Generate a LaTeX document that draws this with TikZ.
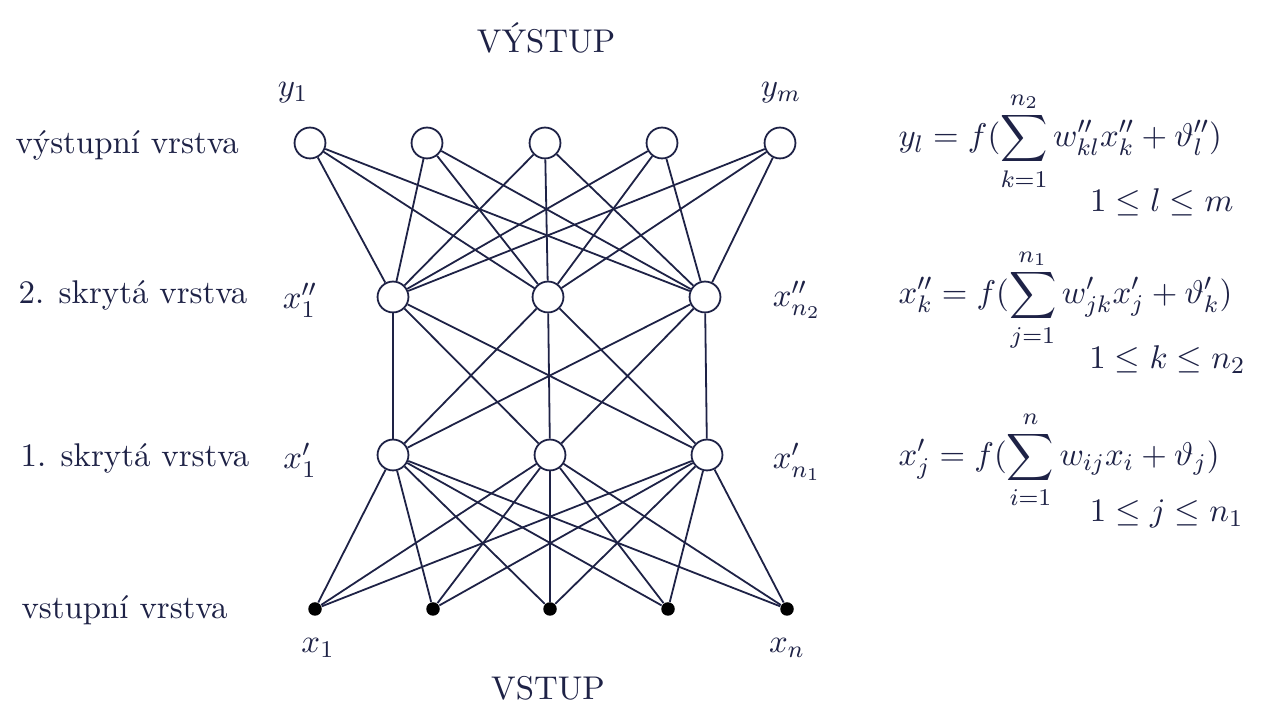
\documentclass[tikz,border=0pt]{standalone}
\usepackage{amsmath}
\usetikzlibrary{positioning}
\definecolor{inkoust}{RGB}{30,34,70}
\tikzset{
  neuron/.style={circle,draw=inkoust,fill=white,inner sep=0pt,minimum size=10.3pt,line width=0.6pt},
  vstupbod/.style={circle,fill=black,inner sep=0pt,minimum size=4.5pt},
  spoj/.style={draw=inkoust,line width=0.6pt},
  vrstva/.style={anchor=west,text=inkoust},
  popis/.style={text=inkoust}
}
\begin{document}
\begin{tikzpicture}[x=0.3333pt,y=-0.3333pt,font=\fontsize{10.95}{13.6}\selectfont]
  \useasboundingbox (0,0) rectangle (1262,704);
  % vrstvy neuronu
  \foreach \i/\x in {1/310,2/427,3/545,4/662,5/780}
    \node[neuron] (y\i) at (\x,143) {};
  \foreach \i/\x in {1/393,2/548,3/705}
    \node[neuron] (h\i) at (\x,297) {};
  \foreach \i/\x in {1/393,2/550,3/707}
    \node[neuron] (g\i) at (\x,455) {};
  \foreach \i/\x in {1/315,2/433,3/550,4/668,5/787}
    \node[vstupbod] (x\i) at (\x,609) {};
  % spoje
  \foreach \a in {1,...,5}
    \foreach \b in {1,2,3} {
      \draw[spoj] (y\a) -- (h\b);
      \draw[spoj] (x\a) -- (g\b);
    }
  \foreach \a in {1,2,3}
    \foreach \b in {1,2,3}
      \draw[spoj] (h\a) -- (g\b);
  % popisy uzlu
  \node[popis] (ly1) at (293,93) {$y_1$};
  \node[popis] (lym) at (781,93) {$y_m$};
  \node[popis] (lh1) at (300,300) {$x''_1$};
  \node[popis] (lhn) at (797,300) {$x''_{n_2}$};
  \node[popis] (lg1) at (300,460) {$x'_1$};
  \node[popis] (lgn) at (797,462) {$x'_{n_1}$};
  \node[popis] (lx1) at (318,648) {$x_1$};
  \node[popis] (lxn) at (787,648) {$x_n$};
  \node[popis] (vystup) at (546,38) {VÝSTUP};
  \node[popis] (vstup) at (548,688) {VSTUP};
  % nazvy vrstev
  \node[vrstva] (nv) at (5,145) {výstupní vrstva};
  \node[vrstva] (n2) at (8,295) {2. skrytá vrstva};
  \node[vrstva] (n1) at (10,458) {1. skrytá vrstva};
  \node[vrstva] (ni) at (11,610) {vstupní vrstva};
  % vzorce
  \node[popis,anchor=west] (f3) at (888,141)
    {$\displaystyle y_l = f(\sum_{k=1}^{n_2} w''_{kl}x''_k + \vartheta''_l)$};
  \node[popis,anchor=east] (r3) at (1244,202) {$1 \le l \le m$};
  \node[popis,anchor=west] (f2) at (888,300)
    {$\displaystyle x''_k = f(\sum_{j=1}^{n_1} w'_{jk}x'_j + \vartheta'_k)$};
  \node[popis,anchor=east] (r2) at (1256,360) {$1 \le k \le n_2$};
  \node[popis,anchor=west] (f1) at (888,460)
    {$\displaystyle x'_j = f(\sum_{i=1}^{n} w_{ij}x_i + \vartheta_j)$};
  \node[popis,anchor=east] (r1) at (1254,514) {$1 \le j \le n_1$};
\end{tikzpicture}
\end{document}
